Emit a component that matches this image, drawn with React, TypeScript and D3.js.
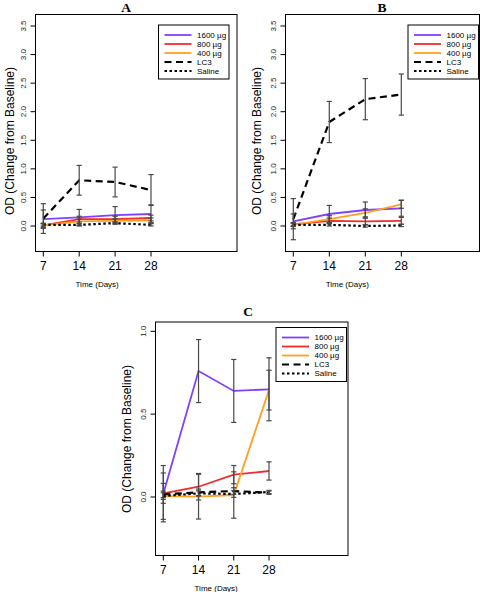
import React from "react";
import * as d3 from "d3";

// ---------- data ----------
const days = [7, 14, 21, 28];
const seriesLabels = ["1600 µg", "800 µg", "400 µg", "LC3", "Saline"];
const yTicksAB = [0, 0.5, 1, 1.5, 2, 2.5, 3, 3.5];
const yTicksC = [0, 0.5, 1];

// Panel A means / error half-widths
const a1600 = [0.12, 0.15, 0.19, 0.21];
const a1600Err = [0.16, 0.14, 0.15, 0.16];
const a800 = [0.01, 0.12, 0.12, 0.14];
const a800Err = [0.04, 0.05, 0.05, 0.05];
const a400 = [0.01, 0.08, 0.09, 0.1];
const a400Err = [0.03, 0.04, 0.04, 0.04];
const aLC3 = [0.13, 0.8, 0.77, 0.63];
const aLC3Err = [0.26, 0.26, 0.26, 0.27];
const aSaline = [0.02, 0.02, 0.05, 0.02];
const aSalineErr = [0.02, 0.02, 0.02, 0.02];

// Panel B
const b1600 = [0.08, 0.21, 0.28, 0.31];
const b1600Err = [0.13, 0.15, 0.14, 0.14];
const b800 = [0.03, 0.09, 0.08, 0.09];
const b800Err = [0.03, 0.05, 0.06, 0.06];
const b400 = [0.02, 0.12, 0.23, 0.38];
const b400Err = [0.03, 0.06, 0.07, 0.07];
const bLC3 = [0.12, 1.82, 2.22, 2.3];
const bLC3Err = [0.36, 0.36, 0.36, 0.36];
const bSaline = [0.02, 0.02, 0.0, 0.01];
const bSalineErr = [0.02, 0.02, 0.02, 0.02];

// Panel C
const c1600 = [0.02, 0.76, 0.64, 0.65];
const c1600Err = [0.17, 0.19, 0.19, 0.19];
const c800 = [0.022, 0.062, 0.135, 0.157];
const c800Err = [0.06, 0.08, 0.055, 0.055];
const c400 = [0.005, 0.002, 0.012, 0.645];
const c400Err = [0.14, 0.135, 0.14, 0.12];
const cLC3 = [0.016, 0.028, 0.036, 0.026];
const cLC3Err = [0.02, 0.02, 0.02, 0.01];
const cSaline = [0.006, 0.022, 0.018, 0.03];
const cSalineErr = [0.02, 0.015, 0.02, 0.01];

// ---------- styles ----------
const colors = ["#8040ff", "#f52a2a", "#ffa020", "#000000", "#000000"];
const dashes = [undefined, undefined, undefined, "7,4.5", "2.5,2.5"];
const widths = [1.8, 1.8, 1.8, 2.2, 2.2];
const SANS = "'Liberation Sans', Arial, Helvetica, sans-serif";
const SERIF = "'Liberation Serif', 'Times New Roman', serif";
const ERR = "#484848";

type PanelProps = {
  title: string;
  box: { l: number; r: number; t: number; b: number };
  x7: number;
  x28: number;
  y0: number;
  yRefVal: number;
  yRefPx: number;
  yTicks: number[];
  means: number[][];
  errs: number[][];
  titlePos: [number, number];
  legPos: [number, number];
  ylabPos: [number, number];
};

function Panel(p: PanelProps) {
  const x = d3.scaleLinear().domain([7, 28]).range([p.x7, p.x28]);
  const y = d3.scaleLinear().domain([0, p.yRefVal]).range([p.y0, p.yRefPx]);
  const line = d3
    .line<number>()
    .x((_, i) => x(days[i]))
    .y((v) => y(v));
  const { l, r, t, b } = p.box;
  const legW = 70.5;
  const legH = 54;
  const [lx, ly] = p.legPos;
  return (
    <g>
      <text
        x={p.titlePos[0]}
        y={p.titlePos[1]}
        fontFamily={SERIF}
        fontWeight="bold"
        fontSize={13.5}
        textAnchor="middle"
        dominantBaseline="central"
      >
        {p.title}
      </text>
      {/* series lines */}
      {p.means.map((m, si) => (
        <path
          key={"l" + si}
          d={line(m) || ""}
          fill="none"
          stroke={colors[si]}
          strokeWidth={widths[si]}
          strokeDasharray={dashes[si]}
        />
      ))}
      {/* error bars */}
      {p.means.map((m, si) =>
        m.map((v, i) => {
          const e = p.errs[si][i];
          const cx = x(days[i]);
          const y1 = y(v + e);
          const y2 = y(v - e);
          return (
            <g key={"e" + si + "-" + i} stroke={ERR} strokeWidth={1.2}>
              <line x1={cx} x2={cx} y1={y1} y2={y2} />
              <line x1={cx - 2.6} x2={cx + 2.6} y1={y1} y2={y1} />
              <line x1={cx - 2.6} x2={cx + 2.6} y1={y2} y2={y2} />
            </g>
          );
        })
      )}
      {/* box */}
      <rect x={l} y={t} width={r - l} height={b - t} fill="none" stroke="#000" strokeWidth={1} />
      {/* y axis */}
      {p.yTicks.map((tv) => (
        <g key={"yt" + tv}>
          <line x1={l - 5} x2={l} y1={y(tv)} y2={y(tv)} stroke="#000" strokeWidth={1} />
          <text
            transform={`translate(${l - 12},${y(tv)}) rotate(-90)`}
            fontFamily={SANS}
            fontSize={8}
            textAnchor="middle"
            dominantBaseline="central"
            fill="#222"
          >
            {d3.format(".1f")(tv)}
          </text>
        </g>
      ))}
      <text
        transform={`translate(${p.ylabPos[0]},${p.ylabPos[1]}) rotate(-90)`}
        fontFamily={SANS}
        fontSize={12}
        textAnchor="middle"
        dominantBaseline="central"
      >
        OD (Change from Baseline)
      </text>
      {/* x axis */}
      {days.map((d) => (
        <g key={"xt" + d}>
          <line x1={x(d)} x2={x(d)} y1={b} y2={b + 5} stroke="#000" strokeWidth={1} />
          <text
            x={x(d)}
            y={b + 14}
            fontFamily={SANS}
            fontSize={12}
            textAnchor="middle"
            dominantBaseline="central"
          >
            {d}
          </text>
        </g>
      ))}
      <text
        x={x(17.5)}
        y={b + 33}
        fontFamily={SANS}
        fontSize={8}
        textAnchor="middle"
        dominantBaseline="central"
      >
        Time (Days)
      </text>
      {/* legend */}
      <rect x={lx} y={ly} width={legW} height={legH} fill="#fff" stroke="#000" strokeWidth={1} />
      {seriesLabels.map((lab, si) => {
        const ry = ly + 10 + 9 * si;
        return (
          <g key={"lg" + si}>
            <line
              x1={lx + 6}
              x2={lx + 33}
              y1={ry}
              y2={ry}
              stroke={colors[si]}
              strokeWidth={widths[si]}
              strokeDasharray={dashes[si]}
            />
            <text x={lx + 38.5} y={ry} fontFamily={SANS} fontSize={8} dominantBaseline="central">
              {lab}
            </text>
          </g>
        );
      })}
    </g>
  );
}

export default function App() {
  return (
    <svg
      width={480}
      height={592}
      style={{ position: "absolute", left: 0, top: 0, background: "#fff" }}
    >
      <rect x={0} y={0} width={480} height={592} fill="#fff" />
      <Panel
        title="A"
        box={{ l: 35.5, r: 237, t: 14.5, b: 251.5 }}
        x7={43.3}
        x28={151}
        y0={226}
        yRefVal={3.5}
        yRefPx={26}
        yTicks={yTicksAB}
        means={[a1600, a800, a400, aLC3, aSaline]}
        errs={[a1600Err, a800Err, a400Err, aLC3Err, aSalineErr]}
        titlePos={[126, 7.5]}
        legPos={[158.5, 25]}
        ylabPos={[9.5, 141]}
      />
      <Panel
        title="B"
        box={{ l: 285.5, r: 479.5, t: 14.5, b: 251.5 }}
        x7={293.3}
        x28={401.3}
        y0={226}
        yRefVal={3.5}
        yRefPx={26}
        yTicks={yTicksAB}
        means={[b1600, b800, b400, bLC3, bSaline]}
        errs={[b1600Err, b800Err, b400Err, bLC3Err, bSalineErr]}
        titlePos={[382, 7.5]}
        legPos={[408, 25]}
        ylabPos={[257, 141]}
      />
      <Panel
        title="C"
        box={{ l: 155.5, r: 348, t: 322, b: 555.5 }}
        x7={163.3}
        x28={269}
        y0={497}
        yRefVal={1.0}
        yRefPx={331.3}
        yTicks={yTicksC}
        means={[c1600, c800, c400, cLC3, cSaline]}
        errs={[c1600Err, c800Err, c400Err, cLC3Err, cSalineErr]}
        titlePos={[248, 311]}
        legPos={[276, 327.5]}
        ylabPos={[127, 439]}
      />
    </svg>
  );
}
